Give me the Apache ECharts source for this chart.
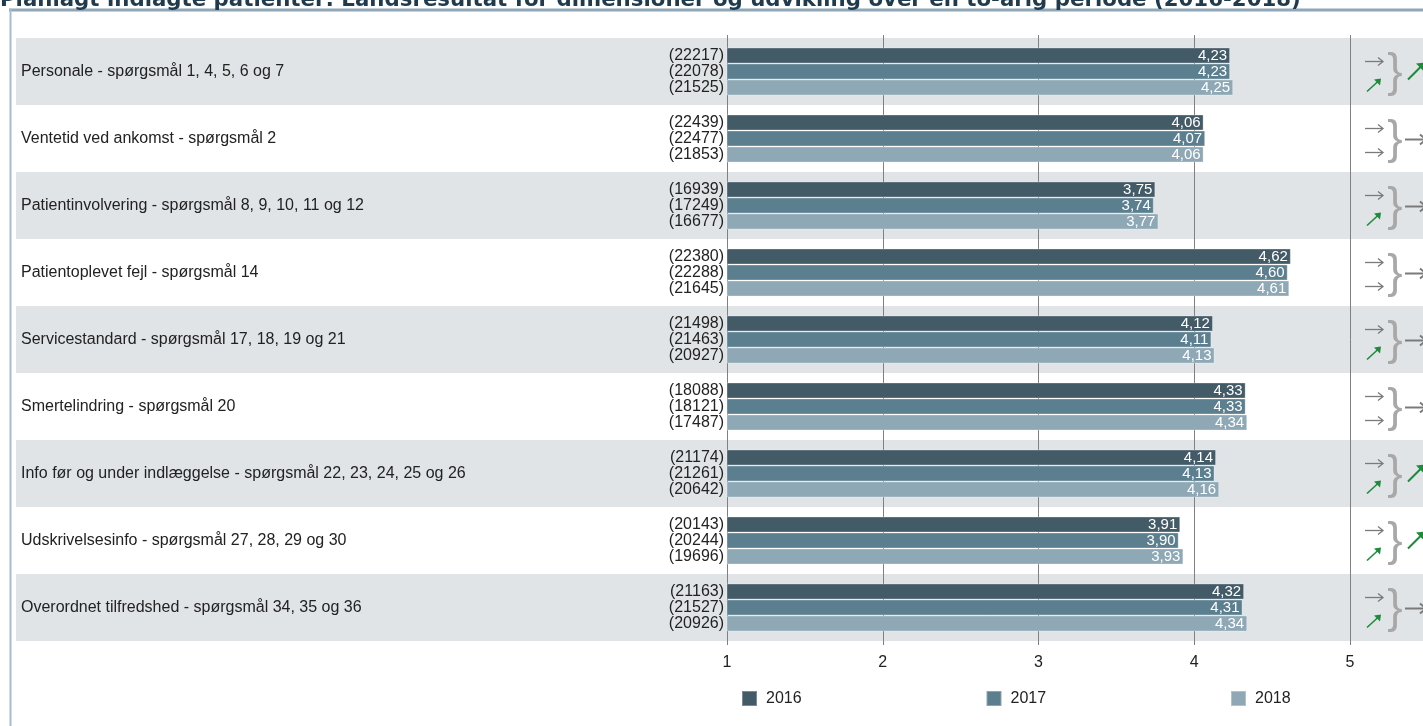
<!DOCTYPE html>
<html><head><meta charset="utf-8">
<script src="https://cdn.jsdelivr.net/npm/echarts@6.0.0/dist/echarts.min.js"></script>
<style>html,body{margin:0;padding:0;background:#fff;}#c{width:1423px;height:726px;}</style>
</head><body><div id="c"></div>
<script>
const titleText = 'Planlagt indlagte patienter: Landsresultat for dimensioner og udvikling over en to-årig periode (2016-2018)';
const categories = [
  'Personale - spørgsmål 1, 4, 5, 6 og 7',
  'Ventetid ved ankomst - spørgsmål 2',
  'Patientinvolvering - spørgsmål 8, 9, 10, 11 og 12',
  'Patientoplevet fejl - spørgsmål 14',
  'Servicestandard - spørgsmål 17, 18, 19 og 21',
  'Smertelindring - spørgsmål 20',
  'Info før og under indlæggelse - spørgsmål 22, 23, 24, 25 og 26',
  'Udskrivelsesinfo - spørgsmål 27, 28, 29 og 30',
  'Overordnet tilfredshed - spørgsmål 34, 35 og 36'
];
const years = ['2016', '2017', '2018'];
const values2016 = [4.23, 4.06, 3.75, 4.62, 4.12, 4.33, 4.14, 3.91, 4.32];
const values2017 = [4.23, 4.07, 3.74, 4.60, 4.11, 4.33, 4.13, 3.90, 4.31];
const values2018 = [4.25, 4.06, 3.77, 4.61, 4.13, 4.34, 4.16, 3.93, 4.34];
const n2016 = [22217, 22439, 16939, 22380, 21498, 18088, 21174, 20143, 21163];
const n2017 = [22078, 22477, 17249, 22288, 21463, 18121, 21261, 20244, 21527];
const n2018 = [21525, 21853, 16677, 21645, 20927, 17487, 20642, 19696, 20926];
// trend codes: 0 = unchanged (→), 1 = significant increase (↗)
const trend2016to2017 = [0, 0, 0, 0, 0, 0, 0, 0, 0];
const trend2017to2018 = [1, 0, 1, 0, 1, 0, 1, 1, 1];
const trendOverall   = [1, 0, 0, 0, 0, 0, 1, 1, 0];
const xMin = 1, xMax = 5, xStep = 1;

const FONT = '"Liberation Sans", Arial, sans-serif';
const barColors = ['#435a67', '#5c7f8f', '#8ea8b6'];
const GRAY = '#7a7a7a', GREEN = '#1e8a3c';
const fmt = v => v.toFixed(2).replace('.', ',');

function smallArrow(cx, cy, up) {
  if (!up) {
    return [
      {type: 'line', shape: {x1: cx - 9, y1: cy, x2: cx + 8.5, y2: cy}, style: {stroke: GRAY, lineWidth: 1.3}},
      {type: 'polyline', shape: {points: [[cx + 4, cy - 4], [cx + 9, cy], [cx + 4, cy + 4]]}, style: {stroke: GRAY, lineWidth: 1.3, fill: 'none'}}
    ];
  }
  const x1 = cx - 7, y1 = cy + 6, x2 = cx + 7, y2 = cy - 7;
  return [
    {type: 'line', shape: {x1: x1, y1: y1, x2: x2 - 2, y2: y2 + 2}, style: {stroke: GREEN, lineWidth: 1.6}},
    {type: 'polygon', shape: {points: [[x2, y2], [x2 - 7, y2 + 1], [x2 - 1, y2 + 7]]}, style: {fill: GREEN}}
  ];
}
function bigArrow(x0, yc, up) {
  if (!up) {
    return [
      {type: 'line', shape: {x1: x0, y1: yc, x2: x0 + 21, y2: yc}, style: {stroke: GRAY, lineWidth: 2}},
      {type: 'polyline', shape: {points: [[x0 + 15, yc - 5], [x0 + 21, yc], [x0 + 15, yc + 5]]}, style: {stroke: GRAY, lineWidth: 2, fill: 'none'}}
    ];
  }
  const x1 = x0 + 3, y1 = yc + 7, x2 = x0 + 20, y2 = yc - 10;
  return [
    {type: 'line', shape: {x1: x1, y1: y1, x2: x2 - 2, y2: y2 + 2}, style: {stroke: GREEN, lineWidth: 2}},
    {type: 'polygon', shape: {points: [[x2, y2], [x2 - 9, y2 + 1], [x2 - 1, y2 + 9]]}, style: {fill: GREEN}}
  ];
}

const valueSeries = [values2016, values2017, values2018].map((vals, i) => ({
  name: years[i], type: 'bar', xAxisIndex: 0, yAxisIndex: 0, data: vals,
  barWidth: 16, barGap: '0%', z: 2,
  itemStyle: {color: barColors[i], borderColor: 'rgba(255,255,255,0.3)', borderWidth: 1},
  label: {show: true, position: 'insideRight', distance: 3, color: '#ffffff', fontSize: 15, fontFamily: FONT,
          formatter: p => fmt(p.value)}
}));
const nLists = [n2016, n2017, n2018];
const nSeries = [values2016, values2017, values2018].map((vals, i) => ({
  name: 'n' + years[i], type: 'bar', xAxisIndex: 0, yAxisIndex: 1, data: vals,
  barWidth: 16, barGap: '0%', z: 2, silent: true,
  itemStyle: {color: 'rgba(0,0,0,0)'},
  label: {show: true, position: 'left', distance: 3, color: '#222222', fontSize: 16, fontFamily: FONT,
          formatter: p => '(' + nLists[i][p.dataIndex] + ')'}
}));

const trendSeries = {
  type: 'custom', xAxisIndex: 0, yAxisIndex: 0, silent: true, z: 5, clip: false,
  encode: {x: 0, y: 1},
  data: categories.map((c, i) => [xMax, i, trend2016to2017[i], trend2017to2018[i], trendOverall[i]]),
  renderItem: (params, api) => {
    const p = api.coord([api.value(0), api.value(1)]);
    const xR = p[0], yc = p[1];
    const children = [].concat(
      smallArrow(xR + 24, yc - 10, api.value(2) === 1),
      smallArrow(xR + 24, yc + 14, api.value(3) === 1),
      [{type: 'text', x: xR + 45, y: yc + 2,
        style: {text: '}', fill: '#a8a8a8', fontSize: 46, fontFamily: FONT, align: 'center', verticalAlign: 'middle'}}],
      bigArrow(xR + 55, yc + 1, api.value(4) === 1)
    );
    return {type: 'group', children: children};
  }
};

const chart = echarts.init(document.getElementById('c'));
chart.setOption({
  animation: false,
  textStyle: {fontFamily: FONT},
  grid: [
    {left: 727, right: 73, top: 38, bottom: 85},
    {left: 16, right: 0, top: 38, bottom: 85}
  ],
  xAxis: [
    {gridIndex: 0, type: 'value', min: xMin, max: xMax, interval: xStep, position: 'bottom', z: 1,
     axisLine: {show: false},
     axisTick: {show: true, length: 4, lineStyle: {color: '#808080'}},
     splitLine: {show: true, lineStyle: {color: '#808080', width: 1}},
     axisLabel: {fontSize: 16, color: '#222222', margin: 14, fontFamily: FONT}},
    {gridIndex: 0, type: 'value', min: xMin, max: xMax, interval: xStep, position: 'top', z: 1,
     axisLine: {show: false}, axisTick: {show: true, length: 3, lineStyle: {color: '#808080'}},
     axisLabel: {show: false}, splitLine: {show: false}},
    {gridIndex: 1, type: 'value', min: 0, max: 1, show: false}
  ],
  yAxis: [
    {gridIndex: 0, type: 'category', data: categories, inverse: true, show: false},
    {gridIndex: 0, type: 'category', data: categories, inverse: true, show: false},
    {gridIndex: 1, type: 'category', data: categories, inverse: true, z: 0,
     axisLine: {show: false}, axisTick: {show: false}, splitLine: {show: false},
     axisLabel: {inside: true, margin: 5, fontSize: 16, color: '#222222', fontFamily: FONT},
     splitArea: {show: true, areaStyle: {color: ['#e1e4e7', '#ffffff']}}}
  ],
  legend: years.map((y, i) => ({
    data: [y], left: 741 + i * 244.5, top: 690, padding: 0, icon: 'rect', itemWidth: 15, itemHeight: 15,
    selectedMode: false, textStyle: {fontSize: 16, color: '#222222', fontFamily: FONT, padding: [7, 0, 0, 4]}
  })),
  graphic: [
    {type: 'rect', shape: {x: 9, y: 8.5, width: 1414, height: 3}, style: {fill: '#8fa7b8'}, z: 10},
    {type: 'rect', shape: {x: 9.5, y: 8.5, width: 2, height: 718}, style: {fill: '#a9bccb'}, z: 10},
    {type: 'text', x: 0, y: 0, z: 10,
     style: {text: titleText, fill: '#1f3b4d', font: 'bold 21.3px "DejaVu Sans"', verticalAlign: 'middle'}}
  ],
  series: valueSeries.concat(nSeries, [trendSeries])
});
</script></body></html>
